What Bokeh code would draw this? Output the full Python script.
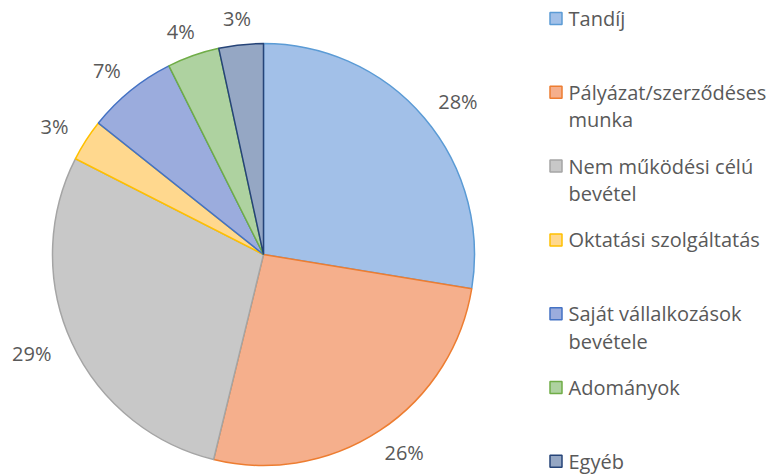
import math
from bokeh.plotting import figure
from bokeh.models import Range1d
from bokeh.core.properties import value
from bokeh.embed import file_html
from bokeh.resources import INLINE

categories = ["Tandíj", "Pályázat/szerződéses munka", "Nem működési célú bevétel",
              "Oktatási szolgáltatás", "Saját vállalkozások bevétele", "Adományok", "Egyéb"]
legend_lines = [["Tandíj"], ["Pályázat/szerződéses", "munka"], ["Nem működési célú", "bevétel"],
                ["Oktatási szolgáltatás"], ["Saját vállalkozások", "bevétele"], ["Adományok"], ["Egyéb"]]
values = [27.6, 26.2, 28.7, 3.2, 6.9, 4.0, 3.4]
pct_labels = ["28%", "26%", "29%", "3%", "7%", "4%", "3%"]
fills = ["#A2C0E8", "#F5AF8C", "#C8C8C8", "#FFD88E", "#9BACDD", "#AED2A0", "#95A7C4"]
strokes = ["#5B9BD5", "#ED7D31", "#A5A5A5", "#FFC000", "#4472C4", "#70AD47", "#264478"]

W, H = 778, 474
p = figure(width=W, height=H, output_backend="svg", toolbar_location=None,
           x_range=Range1d(0, W), y_range=Range1d(0, H), min_border=0)
p.axis.visible = False
p.grid.visible = False
p.outline_line_color = None

cx, cy, r = 263, 220, 211
total = sum(values)
cum = 0.0
starts, ends, lx, ly = [], [], [], []
for v, lab in zip(values, pct_labels):
    a0 = math.pi / 2 - 2 * math.pi * (cum + v) / total
    a1 = math.pi / 2 - 2 * math.pi * cum / total
    starts.append(a0)
    ends.append(a1)
    mid = (a0 + a1) / 2
    dx, dy = math.cos(mid), math.sin(mid)
    bw, bh = 13 * len(lab) + 21, 24
    lx.append(cx + 225 * dx + dx * bw / 2)
    ly.append(cy + 225 * dy + dy * bh / 2)
    cum += v

p.wedge(x=cx, y=cy, radius=r, start_angle=starts, end_angle=ends,
        fill_color=fills, line_color=strokes, line_width=1.5)
p.text(x=lx, y=ly, text=pct_labels, text_align="center", text_baseline="middle",
       text_font=value("Open Sans"), text_font_size="20px", text_color="#595959")

# legend
ltop = H - 18
step = 73.8
mx, tx = 555.5, 568
for i, lines in enumerate(legend_lines):
    y0 = ltop - i * step
    p.rect(x=mx, y=y0, width=12, height=12, fill_color=fills[i], line_color=strokes[i], line_width=1.5)
    for j, line in enumerate(lines):
        p.text(x=[tx], y=[y0 - j * 27.5], text=[line], text_align="left", text_baseline="middle",
               text_font=value("Open Sans"), text_font_size="20px", text_color="#595959")

open("out.html", "w").write(file_html(p, INLINE))
